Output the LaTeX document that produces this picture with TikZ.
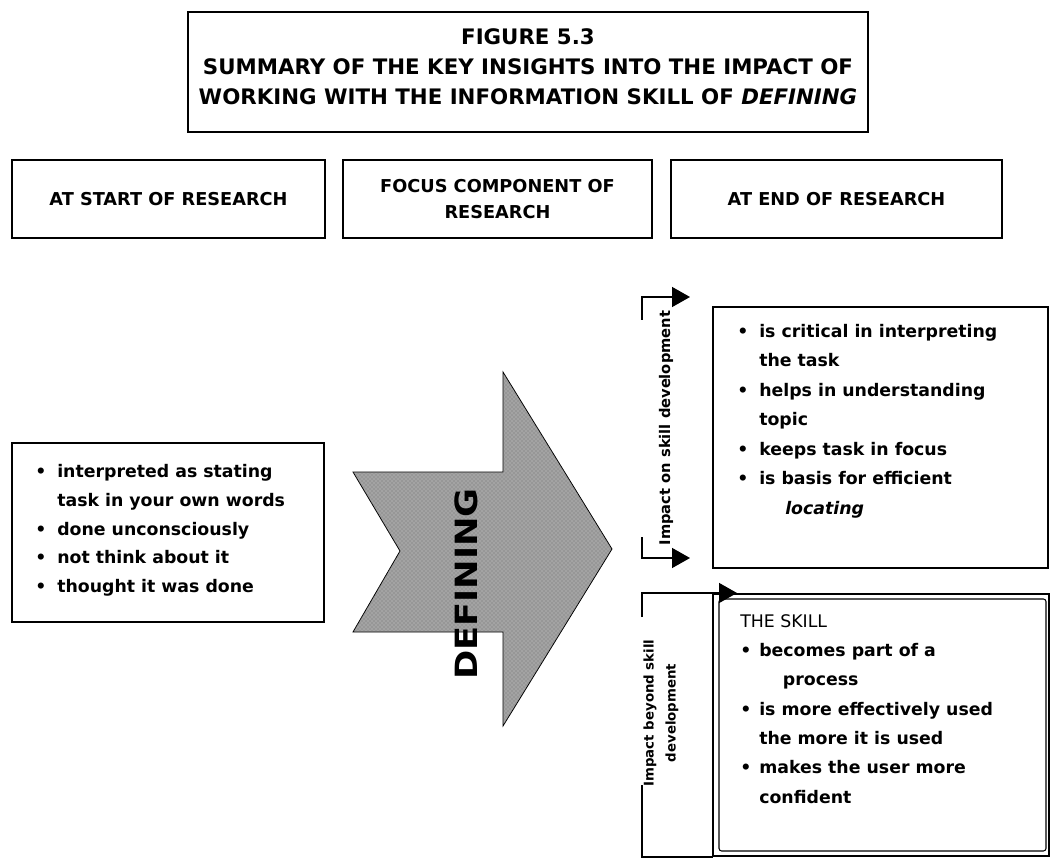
\documentclass[tikz,border=0pt]{standalone}
\usepackage{fontspec}
\setmainfont{DejaVu Sans}
\usetikzlibrary{arrows.meta,patterns}
% bullet and hanging indent for the list boxes
\newcommand\lbul{\makebox[16.5pt][l]{\textbullet}}
\newcommand\lind{\hspace*{16.5pt}}
\newcommand\sbul{\makebox[14.25pt][l]{\textbullet}}
\newcommand\sind{\hspace*{14.25pt}}
\begin{document}
\begin{tikzpicture}[x=0.75pt,y=-0.75pt,
  frame/.style={draw=black, line width=0.8pt, inner sep=0pt},
  titletext/.style={font=\fontsize{16}{22.5}\selectfont\bfseries, align=center},
  headtext/.style={font=\fontsize{13.3}{19.5}\selectfont\bfseries, align=center},
  listtext/.style={font=\fontsize{13}{21.6}\selectfont\bfseries, align=left, anchor=north west, inner sep=0pt},
  sidelabel/.style={rotate=90, align=center, inner sep=0pt},
  bracket/.style={draw=black, line width=1.1pt},
  tipped/.style={bracket, -{Triangle[length=13.5pt,width=15pt]}},
  bigarrow/.style={draw=black, line width=0.6pt, fill=black!36,
    postaction={pattern=crosshatch dots, pattern color=black!55}}]
\useasboundingbox (0,0) rectangle (1050,859);

% title panel
\draw[line width=1.4pt] (188,12) rectangle (868,132);
\node[titletext] (title) at (528,67)
  {FIGURE 5.3\\
   SUMMARY OF THE KEY INSIGHTS INTO THE IMPACT OF\\
   WORKING WITH THE INFORMATION SKILL OF \textit{DEFINING}};

% column headings
\node[frame, headtext, minimum width=234.75pt, minimum height=58.5pt] (hstart) at (168.5,199) {AT START OF RESEARCH};
\node[frame, headtext, minimum width=231.75pt, minimum height=58.5pt] (hfocus) at (497.5,199) {FOCUS COMPONENT OF\\RESEARCH};
\node[frame, headtext, minimum width=248.25pt, minimum height=58.5pt] (hend) at (836.5,199) {AT END OF RESEARCH};

% start-of-research list
\draw[line width=0.8pt] (12,443) rectangle (324,622);
\node[listtext] (startlist) at (35,464)
  {\lbul interpreted as stating\\
   \lind task in your own words\\
   \lbul done unconsciously\\
   \lbul not think about it\\
   \lbul thought it was done};

% focus component arrow
\path[bigarrow] (353,472) -- (503,472) -- (503,372) -- (612,549) -- (503,726)
  -- (503,632) -- (353,632) -- (400,551) -- cycle;
\node[sidelabel, font=\fontsize{23}{28}\selectfont\bfseries] (defining) at (466,584) {\scalebox{1.15}[1]{DEFINING}};

% impact on skill development
\draw[line width=0.8pt] (713,307) rectangle (1048,568);
\node[listtext, font=\fontsize{13}{22.1}\selectfont\bfseries] (skilllist) at (737,324)
  {\lbul is critical in interpreting\\
   \lind the task\\
   \lbul helps in understanding\\
   \lind topic\\
   \lbul keeps task in focus\\
   \lbul is basis for efficient\\
   \hspace*{36pt}\textit{locating}};
\coordinate (sa) at (642,320);
\coordinate (sb) at (642,537);
\coordinate (sta) at (690,297);
\coordinate (stb) at (690,558);
\draw[tipped] (sa) |- (sta);
\draw[tipped] (sb) |- (stb);
\node[sidelabel, font=\fontsize{11}{14}\selectfont\bfseries] (skilllabel) at (666,428) {Impact on skill development};

% impact beyond skill development
\coordinate (ba) at (642,617);
\coordinate (bb) at (642,785);
\coordinate (bta) at (737,593);
\coordinate (btb) at (713,857);
\draw[line width=1.6pt] (713,594) rectangle (1049,856);
\draw[line width=0.8pt, rounded corners=2pt] (719,599) rectangle (1046,851);
\draw[tipped] (ba) |- (bta);
\draw[bracket] (bb) |- (btb);
\node[sidelabel, font=\fontsize{10}{16.5}\selectfont\bfseries] (beyondlabel) at (661,713) {Impact beyond skill\\development};
\node[listtext, font=\fontsize{13}{22}\selectfont\bfseries] (beyondlist) at (740,614)
  {{\mdseries THE SKILL}\\
   \sbul becomes part of a\\
   \hspace*{32pt}process\\
   \sbul is more effectively used\\
   \sind the more it is used\\
   \sbul makes the user more\\
   \sind confident};
\end{tikzpicture}
\end{document}
